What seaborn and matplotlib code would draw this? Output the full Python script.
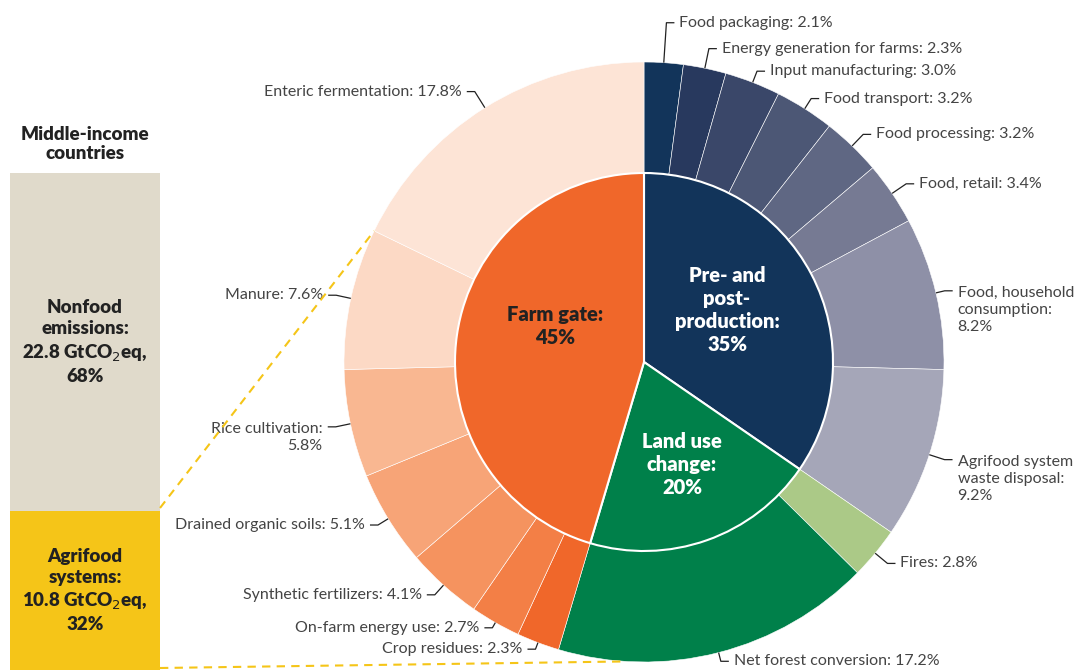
import numpy as np
import matplotlib
matplotlib.use("Agg")
import matplotlib.pyplot as plt
import seaborn as sns

# ─── Data ───────────────────────────────────────────────────────────────────
bar_labels = ["Agrifood\nsystems:\n10.8 GtCO$_2$eq,\n32%",
              "Nonfood\nemissions:\n22.8 GtCO$_2$eq,\n68%"]
bar_shares = [32, 68]
bar_colors = ["#f5c518", "#e0dacb"]

group_names = ["Pre- and\npost-\nproduction:", "Land use\nchange:", "Farm gate:"]
group_shares = [35, 20, 45]
group_colors = ["#12345a", "#00804a", "#f0672a"]
group_text_colors = ["white", "white", "#222222"]

pre_names = ["Food packaging", "Energy generation for farms", "Input manufacturing",
             "Food transport", "Food processing", "Food, retail",
             "Food, household\nconsumption", "Agrifood system\nwaste disposal"]
pre_values = [2.1, 2.3, 3.0, 3.2, 3.2, 3.4, 8.2, 9.2]
pre_colors = ["#12345a", "#28395e", "#3a4769", "#4c5775", "#5f6783", "#767a93",
              "#8e90a7", "#a5a6b8"]

land_names = ["Fires", "Net forest conversion"]
land_values = [2.8, 17.2]
land_colors = ["#abc987", "#00804a"]

farm_names = ["Crop residues", "On-farm energy use", "Synthetic fertilizers",
              "Drained organic soils", "Rice cultivation:\n", "Manure",
              "Enteric fermentation"]
farm_values = [2.3, 2.7, 4.1, 5.1, 5.8, 7.6, 17.8]
farm_colors = ["#f0672a", "#f37f46", "#f5935f", "#f7a477", "#f9b791", "#fcd9c5",
               "#fde4d6"]

# ─── Layout (pixel coords, image y from top) ────────────────────────────────
W, H = 1079, 670
CX, CY = 644, 362
R_OUT, R_IN = 300, 189
TXT = "#444444"


def Y(y):
    return H - y


sns.set_theme(style="white")
plt.rcParams["font.family"] = ["Lato", "DejaVu Sans"]

fig = plt.figure(figsize=(W / 100, H / 100), dpi=100)
fig.patch.set_facecolor("white")

# stacked bar on the left
bax = fig.add_axes([10 / W, 0, 150 / W, (H - 173) / H])
bottom = 0
for lab, v, c in zip(bar_labels, bar_shares, bar_colors):
    bax.bar(0, v, bottom=bottom, width=1, color=c, linewidth=0)
    bax.text(0, bottom + v / 2, lab, ha="center", va="center", fontsize=13.5,
             fontweight="heavy", color="#222222", linespacing=1.3)
    bottom += v
bax.set_xlim(-0.5, 0.5)
bax.set_ylim(0, 100)
bax.axis("off")

# donut
ax = fig.add_axes([0, 0, 1, 1])
ax.patch.set_visible(False)

outer_values = pre_values + land_values + farm_values
outer_colors = pre_colors + land_colors + farm_colors
outer_names = pre_names + land_names + farm_names
inner_values = [sum(pre_values), sum(land_values), sum(farm_values)]

ax.pie(outer_values, colors=outer_colors, radius=R_OUT, center=(CX, Y(CY)),
       startangle=90, counterclock=False,
       wedgeprops=dict(width=R_OUT - R_IN, edgecolor="#ffffff", linewidth=0.4))
ax.pie(inner_values, colors=group_colors, radius=R_IN, center=(CX, Y(CY)),
       startangle=90, counterclock=False,
       wedgeprops=dict(edgecolor="white", linewidth=1.5))

# inner labels
inner_pos = [(727, 310), (682, 465), (555, 326)]
for name, share, tc, (px, py) in zip(group_names, group_shares,
                                     group_text_colors, inner_pos):
    ax.text(px, Y(py), f"{name}\n{share}%", ha="center", va="center",
            fontsize=14.5, fontweight="heavy", color=tc, linespacing=1.25)

# outer labels with elbow leaders
elbow_r = [340, 320, 312, 312, 316, 317, 309, 316, 316, 309,
           307, 306, 313, 312, 315, 315, 319]
cum = np.cumsum([0] + outer_values)
for i, (name, v) in enumerate(zip(outer_names, outer_values)):
    mid = np.deg2rad(90 - (cum[i] + v / 2) * 3.6)
    sx, sy = CX + R_OUT * np.cos(mid), CY - R_OUT * np.sin(mid)
    ex, ey = CX + elbow_r[i] * np.cos(mid), CY - elbow_r[i] * np.sin(mid)
    side = 1 if np.cos(mid) >= -0.05 else -1
    hx = ex + side * 8
    ax.plot([sx, ex, hx], [Y(sy), Y(ey), Y(ey)], color="#222222", lw=0.9,
            solid_capstyle="butt")
    if "\n" in name:
        txt = f"{name.rstrip(':' + chr(10))}:\n{v}%"
        va, ty = "top", ey - 5
    else:
        txt = f"{name}: {v}%"
        va, ty = "center", ey
    ax.text(hx + side * 5, Y(ty), txt, ha="left" if side > 0 else "right",
            va=va, fontsize=11.5, color=TXT, linespacing=1.3,
            multialignment="left" if side > 0 else "right")

# dashed connectors from the agrifood bar to the farm gate slice
a1 = np.deg2rad(90 - cum[-1] * 3.6 + farm_values[-1] * 3.6)
a2 = np.deg2rad(-93.5)
for (bx, by), a in [((160, 508), a1), ((160, 668), a2)]:
    ax.plot([bx, CX + R_OUT * np.cos(a)], [Y(by), Y(CY - R_OUT * np.sin(a))],
            color="#f5c518", lw=1.5, dashes=(4, 3), zorder=5)

ax.text(85, Y(144), "Middle-income\ncountries", ha="center", va="center",
        fontsize=13.5, fontweight="heavy", color="#222222", linespacing=1.15)

ax.set_xlim(0, W)
ax.set_ylim(0, H)
ax.set_aspect("equal")
ax.axis("off")

fig.savefig("out.png", dpi=100, facecolor="white")
